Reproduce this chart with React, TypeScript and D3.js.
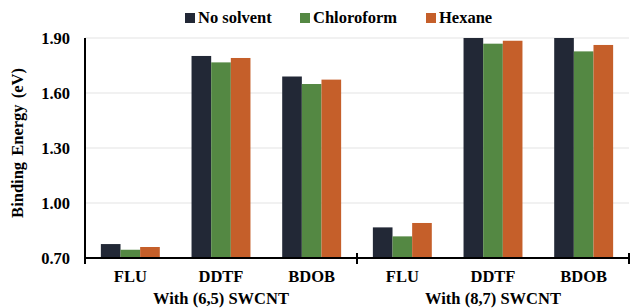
import { useEffect, useRef } from "react";
import * as d3 from "d3";

// Data
const groups = ["With (6,5) SWCNT", "With (8,7) SWCNT"];
const molecules = ["FLU", "DDTF", "BDOB"];
const seriesNames = ["No solvent", "Chloroform", "Hexane"];
const seriesColors = ["#222836", "#548843", "#C55F2A"];
const noSolvent = [0.776, 1.802, 1.69, 0.867, 1.95, 1.95];
const chloroform = [0.745, 1.767, 1.649, 0.818, 1.869, 1.827];
const hexane = [0.76, 1.791, 1.673, 0.891, 1.885, 1.862];
const yTicks = [0.7, 1.0, 1.3, 1.6, 1.9];

export default function App() {
  const svgRef = useRef<SVGSVGElement | null>(null);

  const width = 630;
  const height = 308;
  const margin = { top: 38, right: 1, bottom: 50, left: 85 };

  useEffect(() => {
    const svgEl = svgRef.current;
    if (!svgEl) return;
    const root = d3.select(svgEl);
    root.selectAll("*").remove();

    const innerW = width - margin.left - margin.right;
    const innerH = height - margin.top - margin.bottom;
    const font = "Liberation Serif, Times New Roman, serif";

    const cats = groups.flatMap((g, gi) => molecules.map((m) => `${gi}-${m}`));
    const values = [noSolvent, chloroform, hexane];

    const x0 = d3.scaleBand().domain(cats).range([0, innerW]).paddingInner(0.35).paddingOuter(0.175);
    const x1 = d3.scaleBand().domain(seriesNames).range([0, x0.bandwidth()]);
    const y = d3.scaleLinear().domain([0.7, 1.9]).range([innerH, 0]);

    const g = root.append("g").attr("transform", `translate(${margin.left},${margin.top})`);

    const defs = root.append("defs");
    defs.append("clipPath").attr("id", "plotClip")
      .append("rect").attr("x", 0).attr("y", 0).attr("width", innerW).attr("height", innerH);

    // grid
    g.append("g")
      .selectAll("line")
      .data(yTicks.slice(1))
      .join("line")
      .attr("x1", 0)
      .attr("x2", innerW)
      .attr("y1", (d) => y(d))
      .attr("y2", (d) => y(d))
      .attr("stroke", "#e3e3e3")
      .attr("stroke-width", 1.2);

    // bars
    const barG = g.append("g").attr("clip-path", "url(#plotClip)");
    cats.forEach((c, ci) => {
      seriesNames.forEach((s, si) => {
        const v = values[si][ci];
        barG.append("rect")
          .attr("x", (x0(c) ?? 0) + (x1(s) ?? 0))
          .attr("y", y(v))
          .attr("width", x1.bandwidth())
          .attr("height", innerH - y(v))
          .attr("fill", seriesColors[si]);
      });
    });

    // axes
    g.append("line")
      .attr("x1", 0).attr("x2", 0).attr("y1", 0).attr("y2", innerH)
      .attr("stroke", "#000").attr("stroke-width", 2);
    g.append("line")
      .attr("x1", 0).attr("x2", innerW).attr("y1", innerH).attr("y2", innerH)
      .attr("stroke", "#000").attr("stroke-width", 2);

    // group separator ticks
    const sepX = [0, innerW / 2, innerW];
    g.append("g")
      .selectAll("line")
      .data(sepX)
      .join("line")
      .attr("x1", (d) => d)
      .attr("x2", (d) => d)
      .attr("y1", innerH - 5)
      .attr("y2", innerH + 6)
      .attr("stroke", "#000")
      .attr("stroke-width", 2);

    const txt = (sel: any) =>
      sel.style("font-family", font).style("font-weight", "bold").style("font-size", "16.5px");

    // y tick labels
    g.append("g")
      .selectAll("text")
      .data(yTicks)
      .join("text")
      .attr("x", -15)
      .attr("y", (d) => y(d))
      .attr("dy", "0.35em")
      .attr("text-anchor", "end")
      .call(txt)
      .text((d) => d3.format(".2f")(d));

    // category labels
    g.append("g")
      .selectAll("text")
      .data(cats)
      .join("text")
      .attr("x", (d) => (x0(d) ?? 0) + x0.bandwidth() / 2)
      .attr("y", innerH + 24)
      .attr("text-anchor", "middle")
      .call(txt)
      .text((d) => d.split("-")[1]);

    // group labels
    g.append("g")
      .selectAll("text")
      .data(groups)
      .join("text")
      .attr("x", (_, i) => innerW / 4 + (i * innerW) / 2)
      .attr("y", innerH + 46)
      .attr("text-anchor", "middle")
      .call(txt)
      .text((d) => d);

    // y title
    root.append("text")
      .attr("transform", `translate(23,${margin.top + innerH / 2 - 5}) rotate(-90)`)
      .attr("text-anchor", "middle")
      .call(txt)
      .attr("word-spacing", 2)
      .text("Binding Energy (eV)");

    // legend
    const legendX = [185, 300, 426];
    const legend = root.append("g");
    seriesNames.forEach((s, i) => {
      legend.append("rect")
        .attr("x", legendX[i])
        .attr("y", 13)
        .attr("width", 10)
        .attr("height", 10)
        .attr("fill", seriesColors[i]);
      legend.append("text")
        .attr("x", legendX[i] + 13)
        .attr("y", 23)
        .call(txt)
        .text(s);
    });
  }, []);

  return (
    <div style={{ position: "fixed", left: 0, top: 0 }}>
      <svg ref={svgRef} width={width} height={height} style={{ display: "block", background: "#fff" }} />
    </div>
  );
}
